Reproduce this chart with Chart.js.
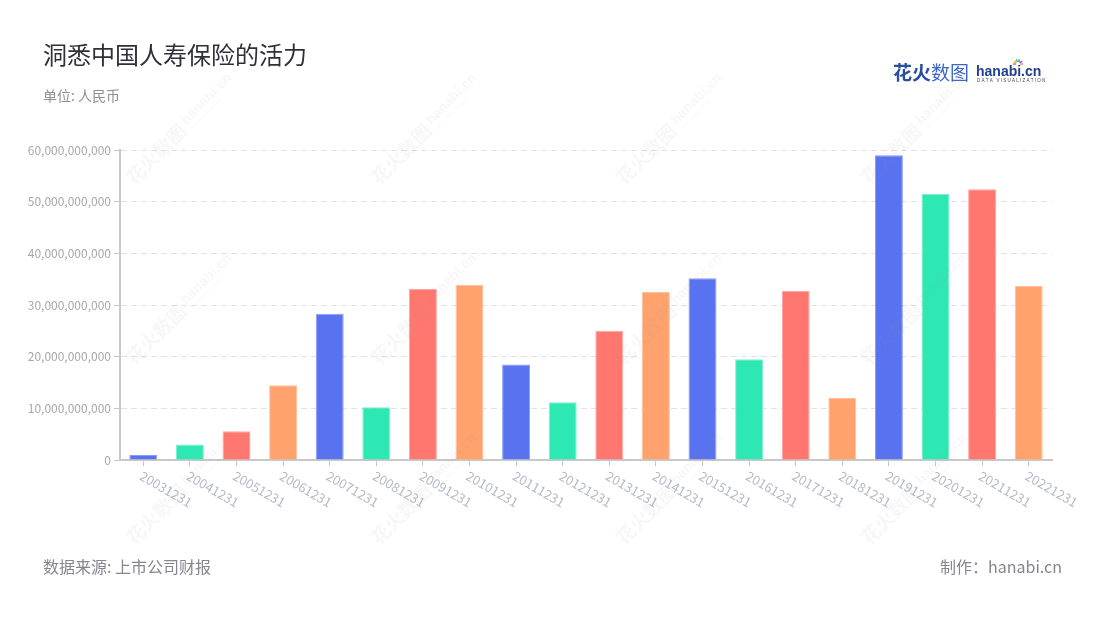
<!DOCTYPE html>
<html>
<head>
<meta charset="utf-8">
<script src="https://cdn.jsdelivr.net/npm/chart.js@4"></script>
<style>
  html, body { margin: 0; padding: 0; background: #fff; }
  #wrap { width: 1100px; height: 620px; position: relative; }
</style>
</head>
<body>
<div id="wrap"><canvas id="c" width="1100" height="620"></canvas></div>
<script>
// ---- data ----
const categories = ['20031231','20041231','20051231','20061231','20071231','20081231','20091231','20101231','20111231','20121231',
                    '20131231','20141231','20151231','20161231','20171231','20181231','20191231','20201231','20211231','20221231'];
const values = [0.97e9, 3.0e9, 5.55e9, 14.45e9, 28.3e9, 10.2e9, 33.1e9, 33.9e9, 18.5e9, 11.2e9,
                25.0e9, 32.5e9, 35.2e9, 19.5e9, 32.7e9, 12.0e9, 59.0e9, 51.5e9, 52.4e9, 33.7e9];
const yTicks = [0, 10e9, 20e9, 30e9, 40e9, 50e9, 60e9];
const titleText = '洞悉中国人寿保险的活力';
const subtitleText = '单位: 人民币';
const sourceText = '数据来源: 上市公司财报';
const creditText = '制作：hanabi.cn';

// ---- styles ----
const palette = ['#5872F0', '#2EE8B3', '#FF776F', '#FFA26E'];
const borderPalette = ['#8A9CF5', '#7FF0CF', '#FFA59F', '#FFC19C'];
const FONT = '"Noto Sans CJK SC", "Noto Sans", sans-serif';

const barColors = values.map((v, i) => palette[i % palette.length]);
const barBorders = values.map((v, i) => borderPalette[i % borderPalette.length]);

const decorPlugin = {
  id: 'decor',
  beforeDraw(chart) {
    const ctx = chart.ctx;
    ctx.save();
    ctx.fillStyle = '#ffffff';
    ctx.fillRect(0, 0, chart.width, chart.height);
    // title
    ctx.fillStyle = '#2f2f3a';
    ctx.font = '24px ' + FONT;
    ctx.textBaseline = 'alphabetic';
    ctx.textAlign = 'left';
    ctx.fillText(titleText, 43, 64);
    ctx.fillStyle = '#8e8e99';
    ctx.font = '14px ' + FONT;
    ctx.fillText(subtitleText, 43, 101);
    // footer
    ctx.fillStyle = '#85858f';
    ctx.font = '16px ' + FONT;
    ctx.fillText(sourceText, 43, 573);
    ctx.textAlign = 'right';
    ctx.fillText(creditText, 1062, 573);
    // logo
    ctx.textAlign = 'left';
    ctx.font = 'bold 19px ' + FONT;
    ctx.fillStyle = '#2B4EA2';
    ctx.fillText('花火', 893, 80);
    const w1 = ctx.measureText('花火').width;
    ctx.font = '19px ' + FONT;
    ctx.fillStyle = '#3E66C6';
    ctx.fillText('数图', 893 + w1, 80);
    ctx.font = 'bold 14px "Liberation Sans", sans-serif';
    ctx.fillStyle = '#22408F';
    ctx.fillText('hanabi.cn', 976, 76);
    ctx.font = '4.5px "Liberation Sans", sans-serif';
    ctx.fillStyle = '#444';
    ctx.fillText('D A T A   V I S U A L I Z A T I O N', 977, 82);
    // starburst
    const sc = ['#ff5a5a', '#ffb000', '#2ecc71', '#3aa0ff', '#9b59b6', '#ff7ab6'];
    for (let k = 0; k < 6; k++) {
      const a = -Math.PI + k * Math.PI / 5;
      ctx.strokeStyle = sc[k];
      ctx.lineWidth = 1.5;
      ctx.beginPath();
      ctx.moveTo(1018 + Math.cos(a) * 2, 64 + Math.sin(a) * 2);
      ctx.lineTo(1018 + Math.cos(a) * 5, 64 + Math.sin(a) * 5);
      ctx.stroke();
    }
    ctx.restore();
  },
  afterDraw(chart) {
    const ctx = chart.ctx;
    // x-axis labels, rotated clockwise
    const xs = chart.scales.x;
    ctx.save();
    ctx.fillStyle = '#b5b9c9';
    ctx.font = '13px ' + FONT;
    ctx.textAlign = 'left';
    ctx.textBaseline = 'top';
    categories.forEach((lab, i) => {
      const x = xs.getPixelForTick(i);
      ctx.save();
      ctx.translate(x + 1, 469);
      ctx.rotate(Math.PI / 6);
      ctx.fillText(lab, 0, 0);
      ctx.restore();
    });
    ctx.restore();
    // watermarks
    ctx.save();
    ctx.fillStyle = 'rgba(150,150,150,0.08)';
    const cols = [180, 425, 670, 915];
    const rows = [130, 310, 490];
    rows.forEach(ry => cols.forEach(cx => {
      ctx.save();
      ctx.translate(cx, ry);
      ctx.rotate(-Math.PI / 4);
      ctx.textBaseline = 'middle';
      ctx.textAlign = 'left';
      ctx.font = 'bold 19px ' + FONT;
      ctx.fillText('花火数图', -72, 0);
      ctx.font = 'bold 14px "Liberation Sans", sans-serif';
      ctx.fillText('hanabi.cn', 8, -3);
      ctx.font = '4px "Liberation Sans", sans-serif';
      ctx.fillText('DATA VISUALIZATION', 10, 7);
      ctx.restore();
    }));
    ctx.restore();
  }
};

new Chart(document.getElementById('c'), {
  type: 'bar',
  data: {
    labels: categories,
    datasets: [{
      data: values,
      backgroundColor: barColors,
      borderColor: barBorders,
      borderWidth: 1,
      barPercentage: 0.6,
      categoryPercentage: 1.0
    }]
  },
  options: {
    responsive: false,
    animation: false,
    layout: { padding: { top: 150, right: 48, left: 0, bottom: 0 } },
    plugins: { legend: { display: false }, tooltip: { enabled: false } },
    scales: {
      x: {
        offset: true,
        grid: { display: true, offset: false, drawOnChartArea: false, drawTicks: true, tickLength: 6, color: '#c8c8c8', tickColor: '#c8c8c8' },
        border: { display: true, color: '#c8c8c8', width: 2 },
        ticks: { color: 'rgba(0,0,0,0)', autoSkip: false, maxRotation: 0, minRotation: 0, font: { size: 13, family: FONT } },
        afterFit(s) { s.height = 160; }
      },
      y: {
        min: 0,
        max: 60e9,
        afterBuildTicks(s) { s.ticks = yTicks.map(v => ({ value: v })); },
        grid: { color: '#e2e2e2', lineWidth: 1, drawTicks: true, tickLength: 6, tickColor: '#c8c8c8', tickBorderDash: [] },
        border: { display: true, color: '#c8c8c8', width: 2, dash: [6, 4] },
        ticks: {
          color: '#a8a8a8',
          padding: 3,
          font: { size: 12, family: FONT },
          callback: v => Number(v).toLocaleString('en-US')
        },
        afterFit(s) { s.width = 120; }
      }
    }
  },
  plugins: [decorPlugin]
});
</script>
</body>
</html>
